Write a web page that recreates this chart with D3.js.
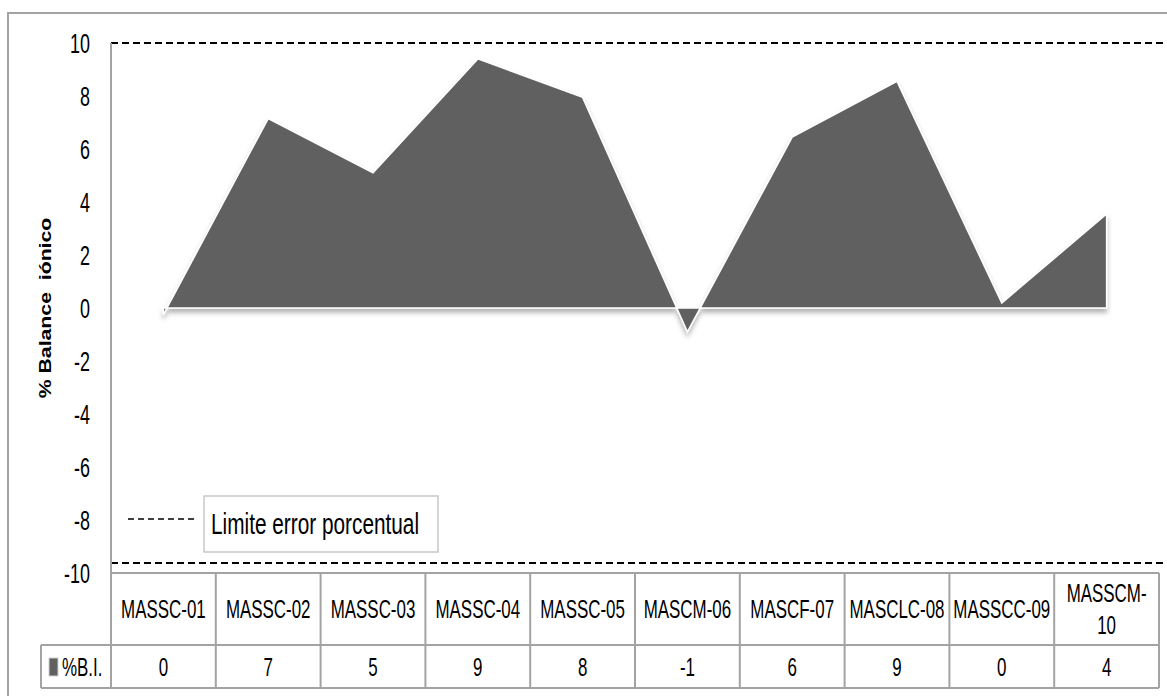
<!DOCTYPE html>
<html>
<head>
<meta charset="utf-8">
<script src="https://cdn.jsdelivr.net/npm/d3@7"></script>
<style>
  body { margin: 0; background: #fff; }
  svg { display: block; }
  text { font-family: "Liberation Sans", Arial, sans-serif; fill: #000; }
</style>
</head>
<body>
<div id="chart"></div>
<script>
// balance ionico por muestra
var categories = ["MASSC-01", "MASSC-02", "MASSC-03", "MASSC-04", "MASSC-05",
                  "MASCM-06", "MASCF-07", "MASCLC-08", "MASSCC-09", "MASSCM-10"];
var balance = [-0.25, 7.15, 5.1, 9.4, 7.95, -0.9, 6.45, 8.55, 0.19, 3.55];
var yTicks = [-10, -8, -6, -4, -2, 0, 2, 4, 6, 8, 10];
var limits = [10, -9.62];
var seriesName = "%B.I.";
var legendText = "Limite error porcentual";
var yTitle = "% Balance  iónico";

var width = 1167, height = 696;
var plotLeft = 111, plotRight = 1159, plotTop = 43, plotBottom = 573;
var headerBottom = 645, tableBottom = 688, rowLabelLeft = 41;
var gridColor = "#a3a3a3";
// the reference font is a narrow one, squeeze Liberation Sans to match
var squeeze = 0.77, stretch = 1.17;

var svg = d3.select("#chart").append("svg")
    .attr("width", width)
    .attr("height", height);

var defs = svg.append("defs");
var shadow = defs.append("filter")
    .attr("id", "shadow")
    .attr("x", "-10%").attr("y", "-10%")
    .attr("width", "120%").attr("height", "130%");
shadow.append("feDropShadow")
    .attr("dx", 0).attr("dy", 4)
    .attr("stdDeviation", 2.5)
    .attr("flood-color", "#000")
    .attr("flood-opacity", 0.3);

// outer frame
svg.append("rect")
    .attr("x", 8).attr("y", 13)
    .attr("width", 1200).attr("height", 720)
    .attr("fill", "none")
    .attr("stroke", gridColor)
    .attr("stroke-width", 2);

var x = d3.scaleBand()
    .domain(categories)
    .range([plotLeft, plotRight]);

var y = d3.scaleLinear()
    .domain([-10, 10])
    .range([plotBottom, plotTop]);

// area
var area = d3.area()
    .x(function(d, i) { return x(categories[i]) + x.bandwidth() / 2; })
    .y0(y(0))
    .y1(function(d) { return y(d); });

svg.append("path")
    .datum(balance)
    .attr("d", area)
    .attr("fill", "#606060")
    .attr("stroke", "#ffffff")
    .attr("stroke-width", 1.5)
    .attr("stroke-linejoin", "miter")
    .attr("filter", "url(#shadow)");

// zero line
svg.append("line")
    .attr("x1", plotLeft).attr("x2", plotRight)
    .attr("y1", y(0)).attr("y2", y(0))
    .attr("stroke", gridColor)
    .attr("stroke-width", 2)
    .attr("filter", "url(#shadow)");

// limit lines
svg.selectAll(".limit")
    .data(limits)
  .enter().append("line")
    .attr("class", "limit")
    .attr("x1", plotLeft).attr("x2", width)
    .attr("y1", function(d) { return y(d); })
    .attr("y2", function(d) { return y(d); })
    .attr("stroke", "#000")
    .attr("stroke-width", 2)
    .attr("stroke-dasharray", "7,4");

// y axis
var yAxis = d3.axisLeft(y)
    .tickValues(yTicks)
    .tickSize(0)
    .tickPadding(0)
    .tickFormat(function(d) { return String(d); });

var gy = svg.append("g")
    .attr("transform", "translate(90,0)")
    .call(yAxis);
gy.select(".domain").remove();
gy.selectAll("text")
    .style("font-family", "'Liberation Sans', Arial, sans-serif")
    .style("font-size", "23px")
    .attr("transform", "scale(0.78," + stretch + ")")
    .attr("dy", "0.34em")
    .attr("fill", "#000");

svg.append("line")
    .attr("x1", plotLeft).attr("x2", plotLeft)
    .attr("y1", plotTop).attr("y2", tableBottom)
    .attr("stroke", gridColor)
    .attr("stroke-width", 2);

// y title
svg.append("text")
    .attr("transform", "translate(51," + y(0) + ") rotate(-90) scale(1.25,1)")
    .attr("text-anchor", "middle")
    .style("font-weight", "bold")
    .style("font-size", "17px")
    .style("white-space", "pre")
    .text(yTitle);

// data table
var table = svg.append("g").attr("class", "table");

table.append("line")
    .attr("x1", plotLeft).attr("x2", plotRight)
    .attr("y1", plotBottom).attr("y2", plotBottom)
    .attr("stroke", gridColor).attr("stroke-width", 2);
table.append("line")
    .attr("x1", rowLabelLeft).attr("x2", plotRight)
    .attr("y1", headerBottom).attr("y2", headerBottom)
    .attr("stroke", gridColor).attr("stroke-width", 2);
table.append("line")
    .attr("x1", rowLabelLeft).attr("x2", plotRight)
    .attr("y1", tableBottom).attr("y2", tableBottom)
    .attr("stroke", gridColor).attr("stroke-width", 2);
table.append("line")
    .attr("x1", rowLabelLeft).attr("x2", rowLabelLeft)
    .attr("y1", headerBottom).attr("y2", tableBottom)
    .attr("stroke", gridColor).attr("stroke-width", 2);

table.selectAll(".colsep")
    .data(categories)
  .enter().append("line")
    .attr("class", "colsep")
    .attr("x1", function(d) { return x(d) + x.bandwidth(); })
    .attr("x2", function(d) { return x(d) + x.bandwidth(); })
    .attr("y1", plotBottom).attr("y2", tableBottom)
    .attr("stroke", gridColor).attr("stroke-width", 2);

var headers = table.selectAll(".head")
    .data(categories)
  .enter().append("text")
    .attr("class", "head")
    .attr("text-anchor", "middle")
    .style("font-size", "22px")
    .attr("transform", function(d) {
        return "translate(" + (x(d) + x.bandwidth() / 2) + "," + ((plotBottom + headerBottom) / 2) + ") scale(" + squeeze + "," + stretch + ")";
    })
    .attr("dy", "0.35em")
    .text(function(d) { return d; });

// wrap labels that do not fit in the cell
headers.each(function(d) {
    var t = d3.select(this);
    if (this.getComputedTextLength() * squeeze > x.bandwidth() - 7) {
        var parts = d.split("-");
        t.text(null);
        t.append("tspan").attr("x", 0).attr("y", -14).attr("dy", "0.35em").text(parts[0] + "-");
        t.append("tspan").attr("x", 0).attr("y", 14).attr("dy", "0.35em").text(parts[1]);
    }
});

table.selectAll(".val")
    .data(balance)
  .enter().append("text")
    .attr("class", "val")
    .attr("text-anchor", "middle")
    .style("font-size", "22px")
    .attr("transform", function(d, i) {
        return "translate(" + (x(categories[i]) + x.bandwidth() / 2) + "," + ((headerBottom + tableBottom) / 2) + ") scale(" + squeeze + "," + stretch + ")";
    })
    .attr("dy", "0.35em")
    .text(function(d) { return String(Math.round(d)); });

// row label with legend key
table.append("rect")
    .attr("x", 49).attr("y", 658)
    .attr("width", 9).attr("height", 18)
    .attr("fill", "#606060")
    .attr("stroke", "#d0d0d0")
    .attr("stroke-width", 1);
table.append("text")
    .attr("transform", "translate(62," + ((headerBottom + tableBottom) / 2) + ") scale(" + squeeze + "," + stretch + ")")
    .attr("dy", "0.35em")
    .style("font-size", "22px")
    .text(seriesName);

// legend
var legend = svg.append("g").attr("class", "legend");
legend.append("rect")
    .attr("x", 204).attr("y", 496)
    .attr("width", 234).attr("height", 56)
    .attr("fill", "#fff")
    .attr("stroke", "#c8c8c8")
    .attr("stroke-width", 1.5);
legend.append("line")
    .attr("x1", 128).attr("x2", 196)
    .attr("y1", 519).attr("y2", 519)
    .attr("stroke", "#000")
    .attr("stroke-width", 1.6)
    .attr("stroke-dasharray", "6,4");
legend.append("text")
    .attr("transform", "translate(211,524) scale(0.8,1.12)")
    .attr("dy", "0.35em")
    .style("font-size", "26px")
    .text(legendText);
</script>
</body>
</html>
